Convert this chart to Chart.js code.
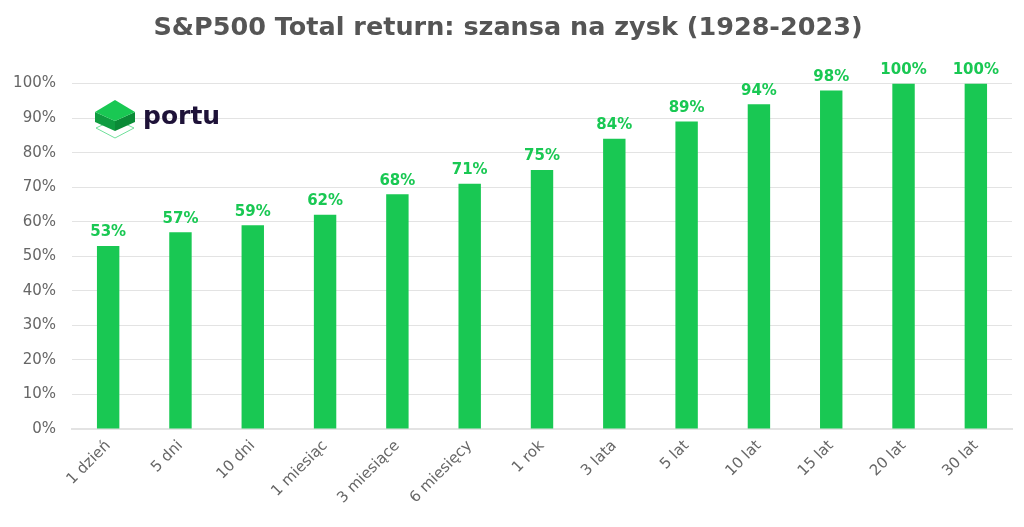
<!DOCTYPE html>
<html>
<head>
<meta charset="utf-8">
<script src="https://cdn.jsdelivr.net/npm/chart.js@4"></script>
<style>
  body { margin: 0; background: #fff; }
  #wrap { width: 1024px; height: 527px; }
</style>
</head>
<body>
<div id="wrap"><canvas id="chart"></canvas></div>
<script>
const categories = ["1 dzień", "5 dni", "10 dni", "1 miesiąc", "3 miesiące", "6 miesięcy", "1 rok", "3 lata", "5 lat", "10 lat", "15 lat", "20 lat", "30 lat"];
const chances = [53, 57, 59, 62, 68, 71, 75, 84, 89, 94, 98, 100, 100];
const yTicks = [0, 10, 20, 30, 40, 50, 60, 70, 80, 90, 100];

const FONT = "'DejaVu Sans', sans-serif";
const GREEN = "#19c853";

// etykiety nad słupkami
const valueLabels = {
  id: "valueLabels",
  afterDatasetsDraw(chart) {
    const ctx = chart.ctx;
    const meta = chart.getDatasetMeta(0);
    ctx.save();
    ctx.font = "bold 15px " + FONT;
    ctx.fillStyle = GREEN;
    ctx.textAlign = "center";
    ctx.textBaseline = "bottom";
    meta.data.forEach((bar, i) => {
      ctx.fillText(chances[i] + "%", bar.x, bar.y - 6);
    });
    ctx.restore();
  }
};

function poly(ctx, pts) {
  ctx.beginPath();
  ctx.moveTo(pts[0][0], pts[0][1]);
  for (let i = 1; i < pts.length; i++) ctx.lineTo(pts[i][0], pts[i][1]);
  ctx.closePath();
}

// logo portu
const logo = {
  id: "logo",
  afterDraw(chart) {
    const ctx = chart.ctx;
    ctx.save();
    ctx.strokeStyle = "#6fe09a";
    ctx.lineWidth = 1;
    poly(ctx, [[115, 119], [134, 128], [115, 138], [96, 128]]);
    ctx.stroke();
    ctx.fillStyle = "#0f9c40";
    poly(ctx, [[95, 112], [115, 121], [115, 131], [95, 122]]);
    ctx.fill();
    ctx.fillStyle = "#0b8a37";
    poly(ctx, [[135, 112], [115, 121], [115, 131], [135, 122]]);
    ctx.fill();
    ctx.fillStyle = GREEN;
    poly(ctx, [[115, 100], [135, 112], [115, 121], [95, 112]]);
    ctx.fill();
    ctx.fillStyle = "#1e1238";
    ctx.font = "bold 25px " + FONT;
    ctx.textBaseline = "alphabetic";
    ctx.textAlign = "left";
    ctx.fillText("portu", 143, 124);
    ctx.restore();
  }
};

new Chart(document.getElementById("chart"), {
  type: "bar",
  data: {
    labels: categories,
    datasets: [{
      data: chances,
      backgroundColor: GREEN,
      barPercentage: 0.31,
      categoryPercentage: 1
    }]
  },
  options: {
    responsive: true,
    maintainAspectRatio: false,
    animation: false,
    layout: { padding: { left: 4, right: 12, top: 0, bottom: 12 } },
    plugins: {
      legend: { display: false },
      tooltip: { enabled: false },
      title: {
        display: true,
        text: "S&P500 Total return: szansa na zysk (1928-2023)",
        color: "#555555",
        font: { family: FONT, size: 25.5, weight: "bold" },
        padding: { top: 13, bottom: 40 }
      }
    },
    scales: {
      x: {
        grid: { display: false, drawTicks: false },
        border: { color: "#e3e3e3", width: 2 },
        ticks: {
          color: "#666666",
          font: { family: FONT, size: 15 },
          maxRotation: 45,
          minRotation: 45,
          padding: 8
        }
      },
      y: {
        min: 0,
        max: 100,
        afterBuildTicks(axis) {
          axis.ticks = yTicks.map(v => ({ value: v }));
        },
        afterFit(axis) {
          axis.width = 68;
        },
        grid: { color: "#e3e3e3", drawTicks: false },
        border: { display: false },
        ticks: {
          color: "#666666",
          font: { family: FONT, size: 15 },
          padding: 16,
          callback: v => v + "%"
        }
      }
    }
  },
  plugins: [valueLabels, logo]
});
</script>
</body>
</html>
